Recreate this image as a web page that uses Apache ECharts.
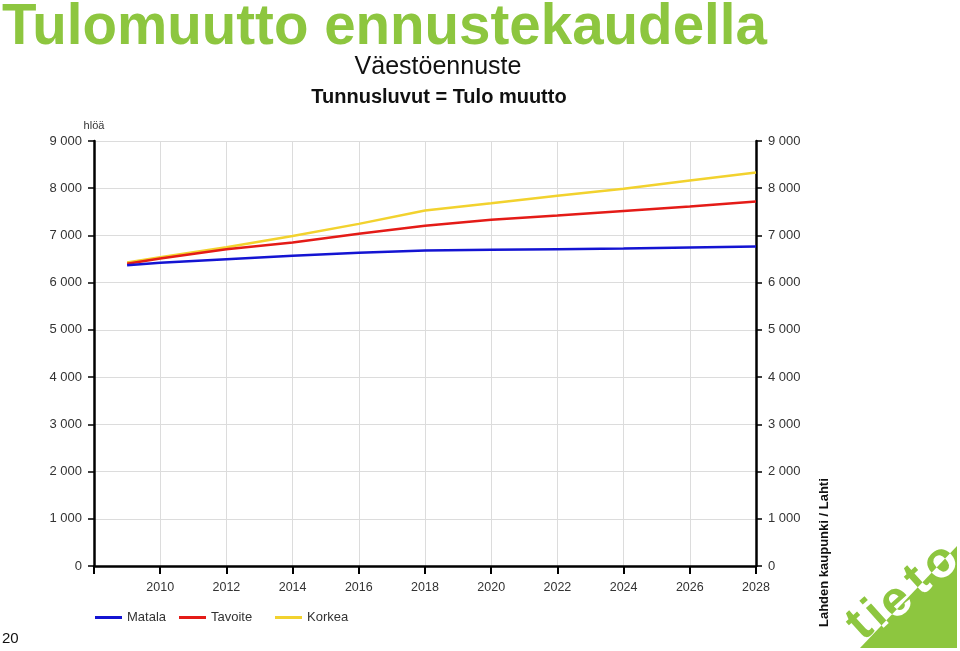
<!DOCTYPE html>
<html>
<head>
<meta charset="utf-8">
<script src="https://cdn.jsdelivr.net/npm/echarts@6/dist/echarts.min.js"></script>
<style>
  html, body { margin: 0; padding: 0; background: #fff; }
  #chart { width: 960px; height: 651px; }
</style>
</head>
<body>
<div id="chart"></div>
<script>
const years = [2009, 2010, 2012, 2014, 2016, 2018, 2020, 2022, 2024, 2026, 2028];
const matala = [6370, 6420, 6497, 6568, 6631, 6680, 6695, 6710, 6723, 6745, 6766];
const tavoite = [6400, 6510, 6710, 6850, 7034, 7205, 7330, 7420, 7520, 7612, 7718];
const korkea = [6430, 6540, 6750, 6990, 7245, 7530, 7683, 7839, 7987, 8163, 8333];

const seriesNames = ['Matala', 'Tavoite', 'Korkea'];
const seriesColors = ['#1414d2', '#e41b17', '#f2d22e'];
const green = '#8dc63f';
const font = '"Liberation Sans", Arial, sans-serif';

function pairs(values) {
  return years.map((y, i) => [y, values[i]]);
}

function fmt(v) {
  return v >= 1000 ? Math.floor(v / 1000) + ' ' + String(v % 1000).padStart(3, '0') : String(v);
}

const chart = echarts.init(document.getElementById('chart'));

const yAxisBase = {
  type: 'value',
  min: 0,
  max: 9000,
  interval: 1000,
  axisLine: { show: true, lineStyle: { color: '#000', width: 2.5 } },
  axisTick: { show: true, length: 6, lineStyle: { color: '#000', width: 1.5 } },
  axisLabel: { color: '#333', fontFamily: font, fontSize: 13, margin: 12, formatter: fmt }
};

chart.setOption({
  animation: false,
  backgroundColor: '#fff',
  title: [
    {
      text: 'Tulomuutto ennustekaudella',
      left: -3, top: -5,
      textStyle: { color: green, fontFamily: font, fontWeight: 'bold', fontSize: 56.5 }
    },
    {
      text: 'Väestöennuste',
      left: 438, top: 55, textAlign: 'center', padding: 0,
      textStyle: { color: '#111', fontFamily: font, fontWeight: 'normal', fontSize: 25 }
    },
    {
      text: 'Tunnusluvut = Tulo muutto',
      left: 439, top: 87, textAlign: 'center', padding: 0,
      textStyle: { color: '#111', fontFamily: font, fontWeight: 'bold', fontSize: 20 }
    }
  ],
  legend: seriesNames.map((name, i) => ({
    data: [name],
    left: [90, 174, 270][i],
    top: 606,
    icon: 'rect',
    itemWidth: 27,
    itemHeight: 3,
    itemGap: 6,
    textStyle: { color: '#333', fontFamily: font, fontSize: 13 }
  })),
  grid: { left: 94, right: 204, top: 141, bottom: 85 },
  xAxis: {
    type: 'value',
    min: 2008,
    max: 2028,
    interval: 2,
    axisLine: { onZero: false, lineStyle: { color: '#000', width: 2.5 } },
    axisTick: { show: true, length: 8, lineStyle: { color: '#000', width: 2 } },
    axisLabel: {
      color: '#333', fontFamily: font, fontSize: 12.5, margin: 15,
      formatter: (v) => (v === 2008 ? '' : String(v))
    },
    splitLine: { show: true, lineStyle: { color: '#dcdcdc', width: 1 } }
  },
  yAxis: [
    Object.assign({}, yAxisBase, {
      position: 'left',
      name: 'hlöä',
      nameGap: 10,
      nameTextStyle: { color: '#333', fontFamily: font, fontSize: 11, align: 'center' },
      splitLine: { show: true, lineStyle: { color: '#dcdcdc', width: 1 } }
    }),
    Object.assign({}, yAxisBase, {
      position: 'right',
      splitLine: { show: false }
    })
  ],
  series: [matala, tavoite, korkea].map((vals, i) => ({
    name: seriesNames[i],
    type: 'line',
    data: pairs(vals),
    showSymbol: false,
    symbol: 'none',
    lineStyle: { color: seriesColors[i], width: 2.5 },
    itemStyle: { color: seriesColors[i] },
    z: 3 - i
  })),
  graphic: [
    {
      type: 'text',
      left: 2, top: 631,
      style: { text: '20', fill: '#111', font: '15px ' + font }
    },
    {
      type: 'text',
      x: 818, y: 627,
      rotation: Math.PI / 2,
      style: { text: 'Lahden kaupunki / Lahti', fill: '#111', font: 'bold 13px ' + font }
    }
  ]
});

// tieto logo: green letters outside the triangle, white inside
const zr = chart.getZr();
const triPoints = [[860, 648], [957, 648], [957, 546]];
const logoLetters = ['t', 'i', 'e', 't', 'o'];
const logoCenters = [[860, 626], [877, 615], [896, 602], [918, 581], [941, 563]];
const logoRot = Math.PI * 42 / 180;

function letterEls(fill, z) {
  return logoLetters.map((ch, i) => new echarts.graphic.Text({
    x: logoCenters[i][0],
    y: logoCenters[i][1],
    rotation: logoRot,
    z: z,
    style: { text: ch, fill: fill, font: 'bold 50px ' + font, align: 'center', verticalAlign: 'middle' }
  }));
}

const greenGroup = new echarts.graphic.Group();
letterEls(green, 10).forEach((el) => greenGroup.add(el));
zr.add(greenGroup);

zr.add(new echarts.graphic.Polygon({
  z: 11,
  shape: { points: triPoints },
  style: { fill: green }
}));

const whiteGroup = new echarts.graphic.Group();
letterEls('#fff', 12).forEach((el) => whiteGroup.add(el));
whiteGroup.setClipPath(new echarts.graphic.Polygon({ shape: { points: triPoints } }));
zr.add(whiteGroup);
</script>
</body>
</html>
